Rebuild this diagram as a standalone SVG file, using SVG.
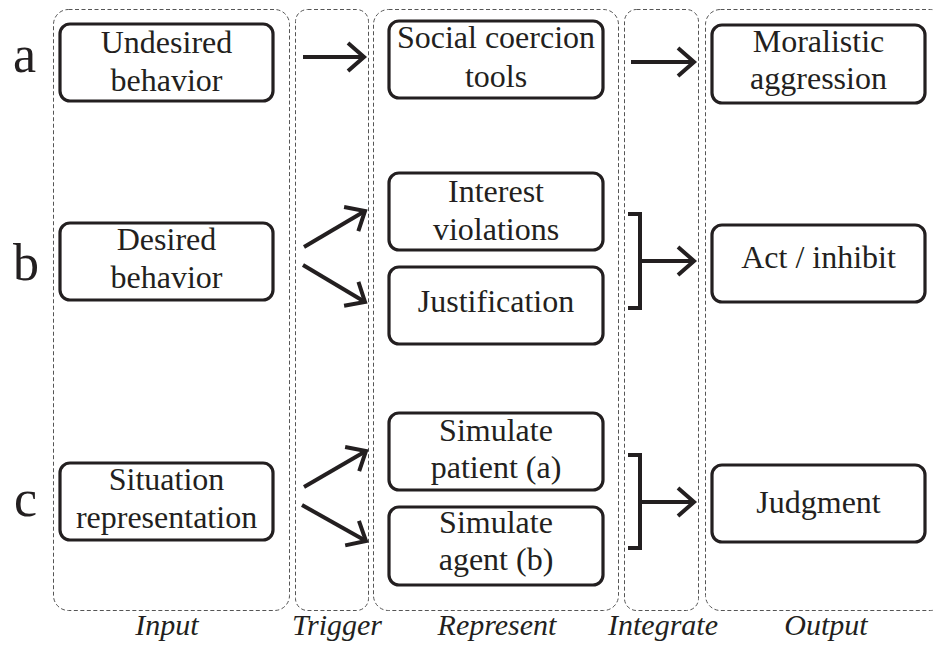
<svg xmlns="http://www.w3.org/2000/svg" width="933" height="648" viewBox="0 0 933 648">
<style>
.panel{fill:none;stroke:#555;stroke-width:1;stroke-dasharray:4 2.5}
.node{fill:#fff;stroke:#231f20;stroke-width:3.2}
text{font-family:'Liberation Serif','DejaVu Serif','Times New Roman',serif;fill:#231f20}
.t{font-size:32px;text-anchor:middle}
.row{font-size:52px}
.lab{font-style:italic;font-size:30px;text-anchor:middle}
.c{fill:none;stroke:#231f20;stroke-width:4}
</style>
<defs>
<marker id="arr" markerUnits="userSpaceOnUse" viewBox="-22 -18 26 36" refX="0" refY="0" markerWidth="26" markerHeight="36" orient="auto" overflow="visible">
<path d="M-16,-14 L0,0 L-16,14" fill="none" stroke="#231f20" stroke-width="4"/>
</marker>
</defs>
<rect width="933" height="648" fill="#fff"/>
<g id="panels">
<rect class="panel" x="53.5" y="9.5" width="236" height="601" rx="15"/>
<rect class="panel" x="295.5" y="9.5" width="73" height="601" rx="12"/>
<rect class="panel" x="373.5" y="9.5" width="245" height="601" rx="15"/>
<rect class="panel" x="624.5" y="9.5" width="74" height="601" rx="12"/>
<rect class="panel" x="705.5" y="9.5" width="240" height="601" rx="15"/>
</g>
<g id="rows">
<text class="row" x="13" y="72" font-family="Liberation Serif, serif">a</text>
<text class="row" x="13" y="280" font-family="Liberation Serif, serif">b</text>
<text class="row" x="14" y="516" font-family="Liberation Serif, serif">c</text>
</g>
<g id="labels">
<text class="lab" x="167" y="635">Input</text>
<text class="lab" x="337" y="635">Trigger</text>
<text class="lab" x="497" y="635">Represent</text>
<text class="lab" x="663" y="635">Integrate</text>
<text class="lab" x="826" y="635">Output</text>
</g>
<g id="undesired"><rect class="node" x="60" y="24" width="213" height="77" rx="10"/><text class="t" x="166.5" y="53">Undesired</text><text class="t" x="166.5" y="91">behavior</text></g>
<g id="desired"><rect class="node" x="60" y="223" width="213" height="77" rx="10"/><text class="t" x="166.5" y="250">Desired</text><text class="t" x="166.5" y="288">behavior</text></g>
<g id="situation"><rect class="node" x="60" y="463" width="213" height="77" rx="10"/><text class="t" x="166.5" y="490">Situation</text><text class="t" x="166.5" y="528">representation</text></g>
<g id="coercion"><rect class="node" x="389" y="21" width="214" height="77" rx="10"/><text class="t" x="496" y="48">Social coercion</text><text class="t" x="496" y="87">tools</text></g>
<g id="interest"><rect class="node" x="389" y="173" width="214" height="77" rx="10"/><text class="t" x="496" y="202">Interest</text><text class="t" x="496" y="240">violations</text></g>
<g id="justification"><rect class="node" x="389" y="267" width="214" height="77" rx="10"/><text class="t" x="496" y="312">Justification</text></g>
<g id="patient"><rect class="node" x="389" y="413" width="214" height="77" rx="10"/><text class="t" x="496" y="441">Simulate</text><text class="t" x="496" y="478">patient (a)</text></g>
<g id="agent"><rect class="node" x="389" y="507" width="214" height="78" rx="10"/><text class="t" x="496" y="533">Simulate</text><text class="t" x="496" y="570">agent (b)</text></g>
<g id="moralistic"><rect class="node" x="712" y="25" width="213" height="78" rx="10"/><text class="t" x="818.5" y="52">Moralistic</text><text class="t" x="818.5" y="89">aggression</text></g>
<g id="act"><rect class="node" x="712" y="225" width="213" height="77" rx="10"/><text class="t" x="818.5" y="268">Act / inhibit</text></g>
<g id="judgment"><rect class="node" x="712" y="465" width="213" height="77" rx="10"/><text class="t" x="818.5" y="513">Judgment</text></g>
<g id="connectors">
<line class="c" x1="303" y1="57" x2="364" y2="57" marker-end="url(#arr)"/>
<line class="c" x1="631" y1="62" x2="694" y2="62" marker-end="url(#arr)"/>
<line class="c" x1="304" y1="247" x2="365" y2="211" marker-end="url(#arr)"/>
<line class="c" x1="303" y1="265" x2="365" y2="302" marker-end="url(#arr)"/>
<line class="c" x1="304" y1="487" x2="366" y2="451" marker-end="url(#arr)"/>
<line class="c" x1="302" y1="505" x2="366" y2="541" marker-end="url(#arr)"/>
<path class="c" d="M628,214 H640 V308 H628"/>
<line class="c" x1="640" y1="261" x2="694" y2="261" marker-end="url(#arr)"/>
<path class="c" d="M628,455 H640 V548 H628"/>
<line class="c" x1="640" y1="502" x2="694" y2="502" marker-end="url(#arr)"/>
</g>
</svg>
